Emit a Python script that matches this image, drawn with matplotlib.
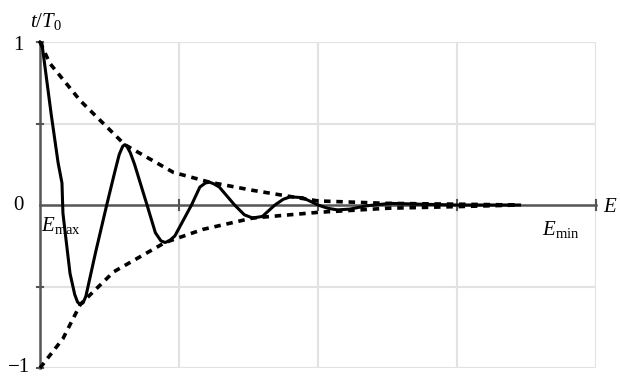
import matplotlib
matplotlib.use('Agg')
import matplotlib.pyplot as plt
import numpy as np

plt.rcParams['font.family'] = ['Liberation Serif', 'DejaVu Serif']
plt.rcParams['mathtext.fontset'] = 'custom'
plt.rcParams['mathtext.rm'] = 'Liberation Serif'
plt.rcParams['mathtext.it'] = 'Liberation Serif:italic'

# damped oscillation t/T0 vs E
osc_x = [0.0, 0.014, 0.08, 0.13, 0.158, 0.165, 0.18, 0.216, 0.25, 0.27, 0.288, 0.31,
         0.33, 0.40, 0.48, 0.54, 0.57, 0.595, 0.61, 0.625, 0.65, 0.68, 0.77,
         0.83, 0.87, 0.90, 0.93, 0.97, 1.09, 1.15, 1.19, 1.22, 1.25, 1.29,
         1.40, 1.47, 1.53, 1.60, 1.69, 1.75, 1.80, 1.89, 2.0, 2.07, 2.14,
         2.23, 2.35, 2.52, 2.73, 3.0, 3.45]
osc_y = [1.0, 0.99, 0.56, 0.26, 0.135, -0.05, -0.16, -0.42, -0.55, -0.595, -0.61, -0.60,
         -0.56, -0.29, 0.0, 0.21, 0.31, 0.36, 0.37, 0.36, 0.32, 0.25, 0.0,
         -0.17, -0.22, -0.23, -0.22, -0.19, 0.0, 0.11, 0.135, 0.14, 0.13, 0.11,
         0.0, -0.06, -0.08, -0.07, 0.0, 0.035, 0.05, 0.045, 0.0, -0.02, -0.03,
         -0.025, -0.005, 0.01, 0.005, 0.0, 0.0]

# upper and lower envelopes
up_x = [0.0, 0.07, 0.29, 0.61, 0.96, 1.22, 1.53, 1.85, 2.0, 2.5, 3.0, 3.45]
up_y = [1.0, 0.87, 0.64, 0.37, 0.20, 0.14, 0.09, 0.045, 0.025, 0.01, 0.005, 0.0]
low_x = [0.0, 0.165, 0.29, 0.53, 0.90, 1.17, 1.53, 2.0, 2.5, 3.0, 3.45]
low_y = [-1.0, -0.82, -0.61, -0.41, -0.23, -0.15, -0.08, -0.045, -0.02, -0.01, 0.0]

fig = plt.figure(figsize=(6.2, 3.76), dpi=100)
ax = fig.add_axes([40/620, 1-368/376, 556/620, 326/376])
ax.set_xlim(0, 4)
ax.set_ylim(-1, 1)

grid_c = '#e2e2e2'
for gx in [1, 2, 3, 4]:
    ax.axvline(gx, color=grid_c, lw=1.5, zorder=0)
for gy in [-1, -0.5, 0.5, 1]:
    ax.axhline(gy, color=grid_c, lw=1.5, zorder=0)

axis_c = '#555555'
ax.plot([0, 0], [-1, 1], color=axis_c, lw=1.8, clip_on=False, zorder=2)
ax.plot([0, 4], [0, 0], color=axis_c, lw=1.8, clip_on=False, zorder=2)
for ty in [-1, -0.5, 0.5, 1]:
    ax.plot([-0.025, 0.025], [ty, ty], color=axis_c, lw=1.5, clip_on=False)
for tx in [1, 2, 3, 4]:
    ax.plot([tx, tx], [-0.03, 0.03], color=axis_c, lw=1.5, clip_on=False)

ax.plot(up_x, up_y, color='black', lw=2.6, ls=(0, (1.8, 1.6)), clip_on=False, zorder=3)
ax.plot(low_x, low_y, color='black', lw=2.6, ls=(0, (1.8, 1.6)), clip_on=False, zorder=3)
ax.plot(osc_x, osc_y, color='black', lw=2.2, clip_on=False, zorder=4,
        solid_joinstyle='round')

for s in ax.spines.values():
    s.set_visible(False)
ax.set_xticks([])
ax.set_yticks([])

fs = 15
fig.text(24/620, 1-45/376, '1', fontsize=fs, ha='right', va='center')
fig.text(24/620, 1-206/376, '0', fontsize=fs, ha='right', va='center')
fig.text(30/620, 1-368/376, '\u22121', fontsize=fs, ha='right', va='center')
fig.text(46/620, 1-22/376, r'$t/T_0$', fontsize=fs, ha='center', va='center')
fig.text(603/620, 1-208/376, r'$E$', fontsize=fs, ha='left', va='center')
fig.text(41/620, 1-226/376, r'$E_{\rm max}$', fontsize=fs, ha='left', va='center')
fig.text(542/620, 1-230/376, r'$E_{\rm min}$', fontsize=fs, ha='left', va='center')

fig.savefig('out.png', dpi=100)
